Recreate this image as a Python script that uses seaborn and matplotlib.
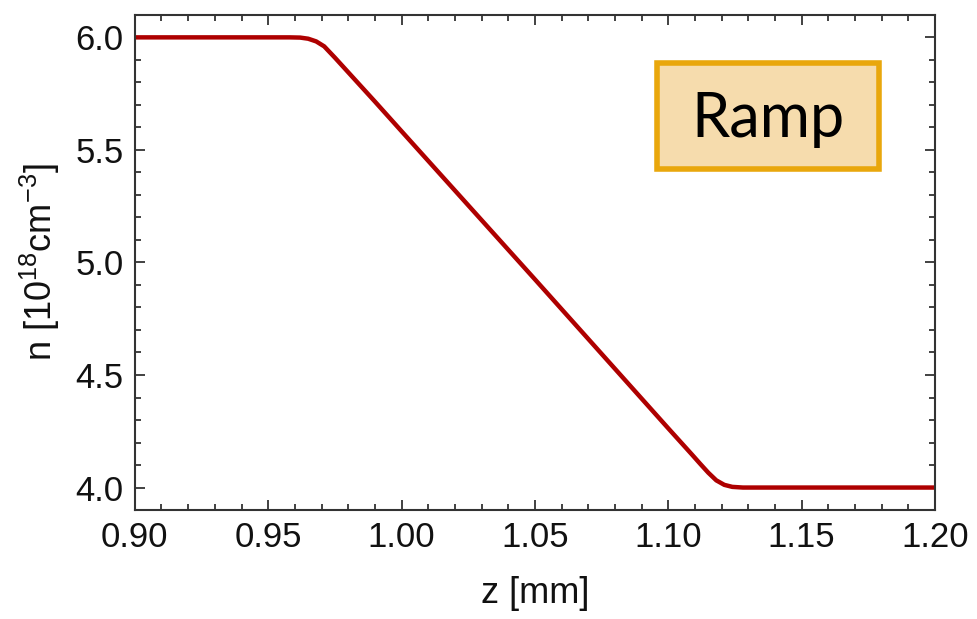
import matplotlib
matplotlib.use("Agg")
import matplotlib.pyplot as plt
import seaborn as sns
import pandas as pd
from matplotlib.ticker import MultipleLocator
from matplotlib.patches import FancyBboxPatch

# Data
z_mm = [0.900, 0.958, 0.962, 0.965, 0.968, 0.971, 0.975, 0.990, 1.000,
        1.050, 1.100, 1.109, 1.112, 1.115, 1.118, 1.121, 1.124, 1.128, 1.200]
n_dens = [6.000, 6.000, 5.999, 5.994, 5.982, 5.960, 5.910, 5.715, 5.583,
          4.925, 4.263, 4.145, 4.105, 4.066, 4.032, 4.012, 4.003, 4.000, 4.000]
x_ticks = [0.90, 0.95, 1.00, 1.05, 1.10, 1.15, 1.20]
y_ticks = [4.0, 4.5, 5.0, 5.5, 6.0]
label_text = "Ramp"

sns.set_style("ticks")
plt.rcParams['font.family'] = ['Liberation Sans', 'DejaVu Sans']
plt.rcParams['mathtext.fontset'] = 'custom'
plt.rcParams['mathtext.rm'] = 'Liberation Sans'
plt.rcParams['mathtext.it'] = 'Liberation Sans:italic'

df = pd.DataFrame({"z": z_mm, "n": n_dens})

fig = plt.figure(figsize=(9.77, 6.19), dpi=100)
ax = fig.add_axes([0.138, 0.176, 0.819, 0.800])
sns.lineplot(data=df, x="z", y="n", ax=ax, color="#AE0000", linewidth=3.2)

ax.set_xlim(0.90, 1.20)
ax.set_ylim(3.90, 6.10)
ax.set_xticks(x_ticks)
ax.set_yticks(y_ticks)
ax.set_xticklabels([f"{v:.2f}" for v in x_ticks])
ax.set_yticklabels([f"{v:.1f}" for v in y_ticks])
ax.xaxis.set_minor_locator(MultipleLocator(0.01))
ax.yaxis.set_minor_locator(MultipleLocator(0.1))
ax.tick_params(which='both', direction='in', top=True, right=True,
               color='#333333', width=1.3, labelsize=25, labelcolor='#111111', pad=8)
ax.tick_params(which='major', length=7)
ax.tick_params(which='minor', length=4.5)
for s in ax.spines.values():
    s.set_linewidth(1.5)
    s.set_color('#333333')

ax.set_xlabel("z [mm]", fontsize=26, color='#111111', labelpad=16)
ax.set_ylabel(r"n [10$^{18}$cm$^{-3}$]", fontsize=26, color='#111111', labelpad=10)

# Label box
fig.patches.append(FancyBboxPatch((657/977, 1-169/619), (879-657)/977, (169-63)/619,
                                  boxstyle="square,pad=0", transform=fig.transFigure,
                                  facecolor="#F6DCAD", edgecolor="#E9A70C", linewidth=4))
fig.text(768/977, 1-119/619, label_text, ha='center', va='center', fontsize=44,
         family=['Lato', 'DejaVu Sans'], color='black')

fig.savefig("out.png", dpi=100)
